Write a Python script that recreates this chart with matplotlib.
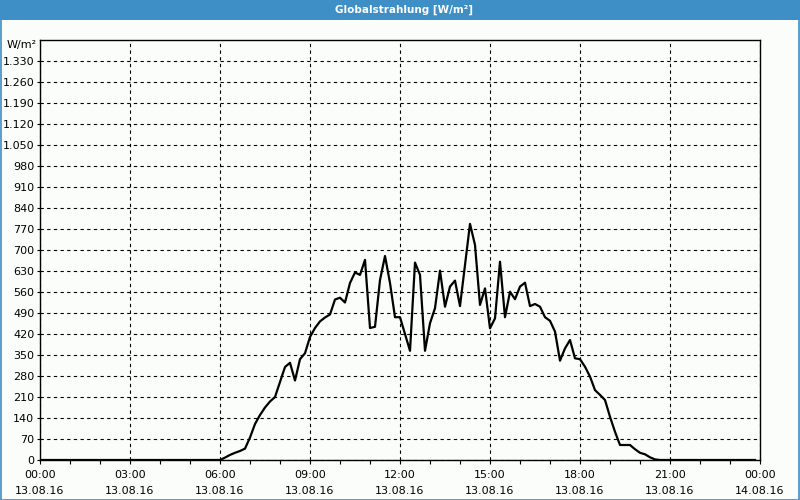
import numpy as np
import matplotlib
matplotlib.use("Agg")
import matplotlib.pyplot as plt
from matplotlib.patches import Rectangle

# 10 minute samples of the global radiation, 13.08.16 00:00 .. 23:50
night_before = [0] * 36          # 00:00 .. 05:50
daytime = [
    0, 8, 17, 24, 30, 38,            # 06:00
    75, 120, 150, 175, 195, 210,     # 07:00
    260, 310, 324, 265, 336, 356,    # 08:00
    410, 440, 462, 475, 485, 535,    # 09:00
    541, 525, 590, 625, 617, 667,    # 10:00
    440, 444, 600, 680, 590, 476,    # 11:00
    476, 420, 364, 658, 617, 364,    # 12:00
    456, 506, 631, 511, 578, 598,    # 13:00
    513, 650, 787, 717, 517, 572,    # 14:00
    439, 472, 661, 476, 561, 536,    # 15:00
    578, 591, 513, 520, 511, 476,    # 16:00
    464, 428, 331, 372, 400, 339,    # 17:00
    336, 311, 278, 233, 217, 200,    # 18:00
    144, 94, 50, 50, 50, 36,         # 19:00
    24, 19, 9, 2,                    # 20:00 .. 20:30
]
night_after = [0] * 20           # 20:40 .. 23:50
values = night_before + daytime + night_after
hours = np.arange(len(values)) / 6.0

x_ticks = [0, 3, 6, 9, 12, 15, 18, 21, 24]
x_labels = ["00:00\n13.08.16", "03:00\n13.08.16", "06:00\n13.08.16",
            "09:00\n13.08.16", "12:00\n13.08.16", "15:00\n13.08.16",
            "18:00\n13.08.16", "21:00\n13.08.16", "00:00\n14.08.16"]
y_ticks = list(range(0, 1331, 70))
title = "Globalstrahlung [W/m²]"
unit = "W/m²"

blue = "#3d8fc6"
bg = "#fbfdfb"

fig = plt.figure(figsize=(8, 5), dpi=100, facecolor=bg)

# title bar and window frame
fig.patches.append(Rectangle((0, 480 / 500), 1, 20 / 500, transform=fig.transFigure,
                             facecolor=blue, edgecolor="none", zorder=0))
fig.patches.append(Rectangle((0.5 / 800, 0.5 / 500), 798.5 / 800, 498.5 / 500,
                             transform=fig.transFigure, facecolor="none",
                             edgecolor=blue, linewidth=1.2, zorder=5))
fig.text(404 / 800, 490 / 500, title, color="white", fontsize=7.5, fontweight="bold",
         ha="center", va="center")

ax = fig.add_axes([40 / 800, 40 / 500, 720 / 800, 420 / 500])
ax.set_facecolor(bg)
ax.plot(hours, values, color="black", linewidth=1.6, zorder=3)

ax.set_xlim(0, 24)
ax.set_ylim(0, 1400)
ax.set_xticks(x_ticks)
ax.set_xticklabels(x_labels, linespacing=1.8)
ax.set_xticks(range(0, 25), minor=True)
ax.set_yticks(y_ticks)
ax.set_yticklabels([f"{v:,}".replace(",", ".") for v in y_ticks])

ax.grid(True, which="major", color="black", linestyle=(0, (3, 3)), linewidth=0.8)
ax.tick_params(axis="x", which="both", direction="out", length=3, width=0.8,
               labelsize=8, pad=4)
ax.tick_params(axis="y", direction="out", length=2, width=0.8, labelsize=8, pad=2)
for s in ax.spines.values():
    s.set_linewidth(1.0)
    s.set_color("black")

# unit label sits above the topmost tick label, left of the axis
ax.text(-0.004, 1383 / 1400, unit, fontsize=8, ha="right", va="center",
        transform=ax.transAxes, clip_on=False)

fig.savefig("out.png", dpi=100, facecolor=bg)
